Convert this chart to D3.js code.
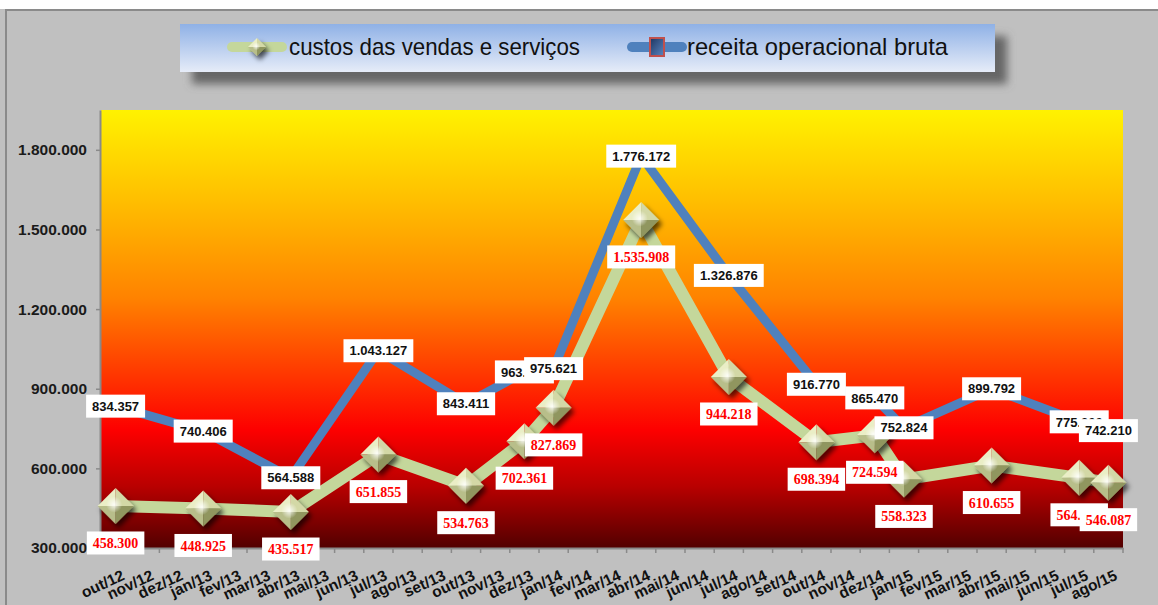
<!DOCTYPE html>
<html>
<head>
<meta charset="utf-8">
<script src="https://cdn.jsdelivr.net/npm/d3@7/dist/d3.min.js"></script>
<style>
  body { margin: 0; background: #fff; }
  svg { display: block; }
</style>
</head>
<body>
<script>
var W = 1158, H = 605;

// monthly category labels of the date axis
var months = ["out/12","nov/12","dez/12","jan/13","fev/13","mar/13","abr/13","mai/13","jun/13",
  "jul/13","ago/13","set/13","out/13","nov/13","dez/13","jan/14","fev/14","mar/14","abr/14",
  "mai/14","jun/14","jul/14","ago/14","set/14","out/14","nov/14","dez/14","jan/15","fev/15",
  "mar/15","abr/15","mai/15","jun/15","jul/15","ago/15"];

// months that carry a data point
var pointMonths = ["out/12","jan/13","abr/13","jul/13","out/13","dez/13","jan/14","abr/14",
  "jul/14","out/14","dez/14","jan/15","abr/15","jul/15","ago/15"];

var custos = [458300, 448925, 435517, 651855, 534763, 702361, 827869, 1535908,
  944218, 698394, 724594, 558323, 610655, 564400, 546087];

var receita = [834357, 740406, 564588, 1043127, 843411, 963300, 975621, 1776172,
  1326876, 916770, 865470, 752824, 899792, 775300, 742210];

var yTicks = [300000, 600000, 900000, 1200000, 1500000, 1800000];

var seriesNames = ["custos das vendas e serviços", "receita operacional bruta"];

var br = d3.formatLocale({decimal: ",", thousands: ".", grouping: [3], currency: ["R$", ""]});
var fmt = br.format(",d");

var plot = {left: 101, right: 1123, top: 110, bottom: 548};

var x = d3.scaleBand().domain(months).range([plot.left, plot.right]);
function cx(m) { return x(m) + x.bandwidth() / 2; }
var y = d3.scaleLinear().domain([300000, 1950000]).range([plot.bottom, plot.top]);

var svg = d3.select("body").append("svg").attr("width", W).attr("height", H);
var defs = svg.append("defs");

// plot background gradient
var fire = defs.append("linearGradient").attr("id", "fire")
  .attr("x1", 0).attr("y1", 0).attr("x2", 0).attr("y2", 1);
[[0, "#fff200"], [0.2, "#ffc000"], [0.43, "#ff8200"], [0.62, "#ff3000"],
 [0.73, "#fd0000"], [0.86, "#b80000"], [1, "#520000"]].forEach(function(s) {
  fire.append("stop").attr("offset", s[0]).attr("stop-color", s[1]);
});

// legend gradient
var lg = defs.append("linearGradient").attr("id", "legbg")
  .attr("x1", 0).attr("y1", 0).attr("x2", 0).attr("y2", 1);
lg.append("stop").attr("offset", 0).attr("stop-color", "#8fb1e6");
lg.append("stop").attr("offset", 1).attr("stop-color", "#e6ecf8");

var sq = defs.append("linearGradient").attr("id", "sqg")
  .attr("x1", 0).attr("y1", 0).attr("x2", 1).attr("y2", 1);
sq.append("stop").attr("offset", 0).attr("stop-color", "#1d3560");
sq.append("stop").attr("offset", 1).attr("stop-color", "#5a86c2");

var blur = defs.append("filter").attr("id", "blur")
  .attr("x", "-20%").attr("y", "-50%").attr("width", "140%").attr("height", "200%");
blur.append("feGaussianBlur").attr("stdDeviation", 4);

var shadow = defs.append("filter").attr("id", "shadow")
  .attr("x", "-50%").attr("y", "-50%").attr("width", "200%").attr("height", "200%");
shadow.append("feDropShadow").attr("dx", 3).attr("dy", 4).attr("stdDeviation", 2.5)
  .attr("flood-color", "#000").attr("flood-opacity", 0.65);

var hl = defs.append("radialGradient").attr("id", "hl");
hl.append("stop").attr("offset", 0).attr("stop-color", "#fff").attr("stop-opacity", 0.85);
hl.append("stop").attr("offset", 1).attr("stop-color", "#fff").attr("stop-opacity", 0);

// chart area
svg.append("rect").attr("x", 0).attr("y", 9).attr("width", W).attr("height", H - 9)
  .attr("fill", "#c0c0c0");
svg.append("path").attr("d", "M6," + H + "V10H" + W)
  .attr("fill", "none").attr("stroke", "#8a8a8a").attr("stroke-width", 2);

// legend
var leg = svg.append("g");
leg.append("rect").attr("x", 192).attr("y", 36).attr("width", 815).attr("height", 48)
  .attr("fill", "#666").attr("filter", "url(#blur)");
leg.append("rect").attr("x", 180).attr("y", 24).attr("width", 815).attr("height", 48)
  .attr("fill", "url(#legbg)");

function diamond(g, s) {
  var faces = [
    [[0, 0], [0, -s], [-s, 0], "#eaeec6"],
    [[0, 0], [0, -s], [s, 0], "#d3d8a6"],
    [[0, 0], [-s, 0], [0, s], "#b8be8a"],
    [[0, 0], [s, 0], [0, s], "#90965f"]
  ];
  faces.forEach(function(f) {
    g.append("path").attr("d", "M" + f[0] + "L" + f[1] + "L" + f[2] + "Z").attr("fill", f[3]);
  });
  g.append("circle").attr("r", s * 0.45).attr("cx", -s * 0.08).attr("cy", -s * 0.08)
    .attr("fill", "url(#hl)");
}

var lx1 = 257, lx2 = 657, ly = 47;
leg.append("line").attr("x1", 232).attr("x2", 282).attr("y1", ly).attr("y2", ly)
  .attr("stroke", "#c4d79b").attr("stroke-width", 10).attr("stroke-linecap", "round");
diamond(leg.append("g").attr("transform", "translate(" + lx1 + "," + ly + ")")
  .attr("filter", "url(#shadow)"), 9);
leg.append("line").attr("x1", 632).attr("x2", 682).attr("y1", ly).attr("y2", ly)
  .attr("stroke", "#4f81bd").attr("stroke-width", 10).attr("stroke-linecap", "round");
leg.append("rect").attr("x", lx2 - 7).attr("y", ly - 9).attr("width", 14).attr("height", 18)
  .attr("fill", "url(#sqg)").attr("stroke", "#c0504d").attr("stroke-width", 2);

[[289, 291, seriesNames[0]], [687, 261, seriesNames[1]]].forEach(function(t) {
  leg.append("text").attr("x", t[0]).attr("y", ly + 8)
    .attr("font-family", "'Liberation Sans Narrow', 'Arial Narrow', 'Liberation Sans', sans-serif")
    .attr("font-size", 24).attr("fill", "#111")
    .attr("textLength", t[1]).attr("lengthAdjust", "spacingAndGlyphs")
    .text(t[2]);
});

// plot area
svg.append("rect").attr("x", plot.left).attr("y", plot.top)
  .attr("width", plot.right - plot.left).attr("height", plot.bottom - plot.top)
  .attr("fill", "url(#fire)");

// y axis
var yAxis = svg.append("g").attr("transform", "translate(" + (plot.left - 1) + ",0)")
  .call(d3.axisLeft(y).tickValues(yTicks).tickFormat(fmt).tickSize(4).tickSizeOuter(0).tickPadding(9));
yAxis.select(".domain").attr("stroke", "#8a8a8a").attr("stroke-width", 2);
yAxis.selectAll(".tick line").attr("stroke", "#8a8a8a").attr("stroke-width", 1.5);
yAxis.selectAll("text").attr("font-family", "'Liberation Sans', Arial, sans-serif")
  .attr("font-weight", "bold").attr("font-size", 15.5).attr("fill", "#1a1a1a");

// x axis
var xAxis = svg.append("g").attr("transform", "translate(0," + plot.bottom + ")")
  .call(d3.axisBottom(x).tickSize(0).tickSizeOuter(0));
xAxis.select(".domain").attr("stroke", "#8a8a8a").attr("stroke-width", 2);
xAxis.selectAll(".tick text")
  .attr("x", 0).attr("y", 0).attr("dy", 0)
  .attr("text-anchor", "end")
  .attr("transform", "translate(10,31) rotate(-25)")
  .attr("font-family", "'Liberation Sans', Arial, sans-serif")
  .attr("font-weight", "bold").attr("font-size", 15.5).attr("fill", "#111");
xAxis.selectAll(".edge").data(months.concat(["end"])).enter().append("line")
  .attr("x1", function(m) { return m === "end" ? plot.right : x(m); })
  .attr("x2", function(m) { return m === "end" ? plot.right : x(m); })
  .attr("y1", 0).attr("y2", 5)
  .attr("stroke", "#8a8a8a").attr("stroke-width", 1.5);

// series lines
var line = d3.line()
  .x(function(d, i) { return cx(pointMonths[i]); })
  .y(function(d) { return y(d); });

svg.append("path").datum(custos).attr("d", line)
  .attr("fill", "none").attr("stroke", "#c4d79b").attr("stroke-width", 12)
  .attr("stroke-linejoin", "miter");

svg.selectAll(".mk").data(custos).enter().append("g")
  .attr("transform", function(d, i) { return "translate(" + cx(pointMonths[i]) + "," + y(d) + ")"; })
  .attr("filter", "url(#shadow)")
  .each(function() { diamond(d3.select(this), 18); });

svg.append("path").datum(receita).attr("d", line)
  .attr("fill", "none").attr("stroke", "#4f81bd").attr("stroke-width", 9)
  .attr("stroke-linejoin", "miter");

// data labels
function labels(values, dy, opts) {
  values.forEach(function(v, i) {
    var g = svg.append("g")
      .attr("transform", "translate(" + cx(pointMonths[i]) + "," + (y(v) + dy) + ")");
    var r = g.append("rect").attr("fill", "#fff");
    var t = g.append("text").attr("text-anchor", "middle").attr("dy", "0.36em")
      .attr("font-family", opts.font).attr("font-weight", "bold")
      .attr("font-size", opts.size).attr("fill", opts.color).text(fmt(v));
    var w = t.node().getComputedTextLength() + 12;
    r.attr("x", -w / 2).attr("y", -11.5).attr("width", w).attr("height", 23);
  });
}

labels(custos, 37, {font: "'Liberation Serif', 'Times New Roman', serif", size: 14, color: "#ff0000"});
labels(receita, 0, {font: "'Liberation Sans', Arial, sans-serif", size: 13, color: "#111"});
</script>
</body>
</html>
